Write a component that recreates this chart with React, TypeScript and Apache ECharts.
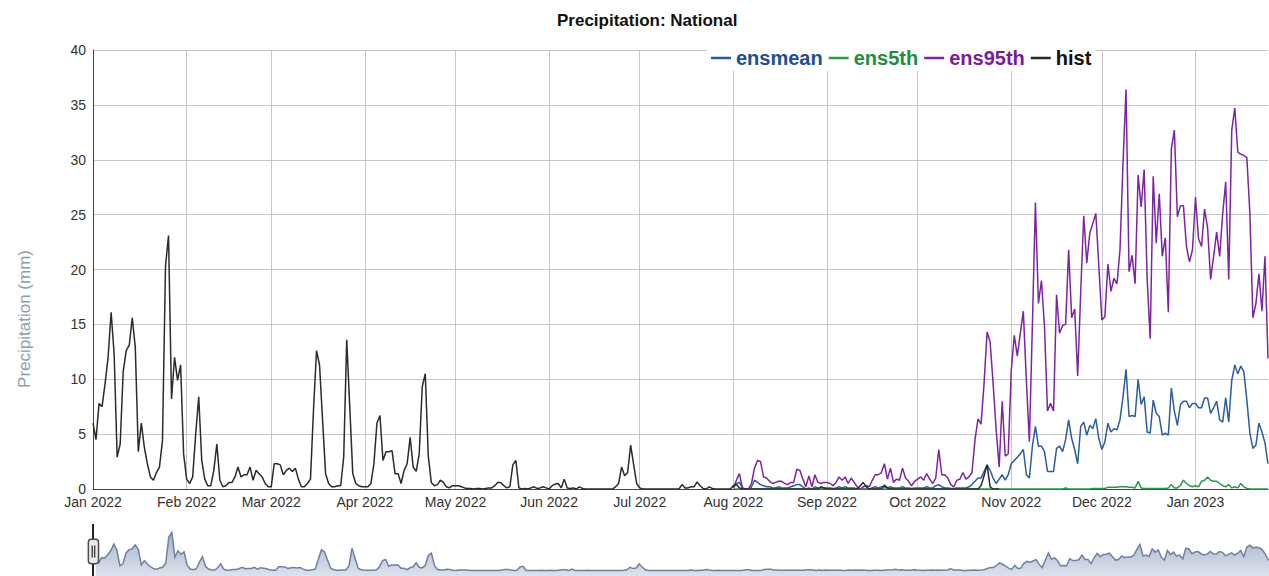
import React, { useEffect, useRef } from 'react';
import * as echarts from 'echarts';

const FONT = 'Arial, "Liberation Sans", sans-serif';
const START_DATE = '2022-01-01';
const DAY_COUNT = 390;
const ENS_START = 212; // index of 2022-08-01
const MONTHS = ['Jan', 'Feb', 'Mar', 'Apr', 'May', 'Jun', 'Jul', 'Aug', 'Sep', 'Oct', 'Nov', 'Dec'];
const TITLE = 'Precipitation: National';
const Y_NAME = 'Precipitation (mm)';
const SERIES_NAMES = ['ensmean', 'ens5th', 'ens95th', 'hist'];

// observed daily precipitation, from 2022-01-01
const hist = [
  6.0, 4.5, 7.8, 7.5, 9.6, 12.0, 16.1, 12.3, 2.9, 4.1,
  10.7, 12.6, 13.1, 15.6, 12.9, 3.4, 6.0, 3.8, 2.3, 1.1,
  0.8, 1.5, 2.0, 4.4, 20.3, 23.1, 8.2, 12.0, 9.9, 11.3,
  3.2, 0.9, 0.5, 1.1, 5.0, 8.4, 2.6, 0.9, 0.3, 0.3,
  1.7, 4.1, 0.8, 0.2, 0.3, 0.6, 0.6, 1.1, 2.0, 1.1,
  1.3, 1.3, 2.0, 0.8, 1.7, 1.4, 1.1, 0.5, 0.2, 0.2,
  2.3, 2.3, 2.2, 1.3, 1.7, 1.9, 1.6, 1.9, 0.9, 0.2,
  0.2, 0.5, 0.9, 7.2, 12.6, 11.3, 6.3, 1.4, 0.5, 0.2,
  0.2, 0.3, 0.3, 2.9, 13.6, 7.5, 1.4, 0.5, 0.3, 0.2,
  0.2, 0.2, 0.5, 2.3, 6.0, 6.7, 2.6, 3.4, 3.4, 3.5,
  1.4, 1.4, 0.5, 1.7, 2.3, 4.7, 2.0, 1.6, 3.2, 9.3,
  10.5, 3.0, 0.6, 0.3, 0.4, 0.8, 0.6, 0.2, 0.1, 0.3,
  0.3, 0.3, 0.2, 0.1, 0.05, 0.05, 0, 0.05, 0.05, 0,
  0.05, 0.1, 0.1, 0.3, 0.6, 0.6, 0.3, 0.1, 0.2, 2.2,
  2.6, 0.1, 0, 0.05, 0, 0.1, 0.2, 0.05, 0.1, 0.2,
  0.1, 0, 0.3, 0.45, 0.5, 0.1, 0.9, 0.1, 0.05, 0.1,
  0, 0.2, 0.05, 0, 0, 0, 0, 0, 0, 0,
  0, 0, 0, 0.2, 0.5, 2.0, 1.2, 1.5, 4.0, 2.2,
  0.5, 0.1, 0, 0, 0, 0, 0, 0, 0, 0,
  0, 0, 0, 0, 0, 0.4, 0.1, 0.1, 0.2, 0.2,
  0.65, 0.3, 0.05, 0, 0.2, 0.05, 0, 0, 0, 0,
  0, 0, 0.3, 0.4, 0.1, 0, 0, 0, 0, 0,
  0, 0, 0, 0, 0, 0, 0, 0, 0, 0,
  0, 0, 0, 0, 0, 0, 0, 0, 0, 0,
  0, 0.2, 0.1, 0, 0, 0, 0, 0, 0, 0,
  0, 0, 0, 0, 0.3, 0.6, 0.2, 0, 0, 0,
  0, 0, 0.35, 0.1, 0, 0, 0, 0, 0, 0,
  0, 0, 0, 0, 0, 0, 0, 0, 0, 0,
  0, 0, 0, 0, 0, 0, 0, 0, 0, 0,
  0, 0, 0, 0, 0.3, 1.2, 2.2, 0.2, 0, 0,
  0,
];

// ensemble mean, from 2022-08-01
const ensmean = [
  0.1, 0.5, 0.6, 0.1, 0, 0, 0.2, 0.8, 0.6, 0.4,
  0.3, 0.2, 0.2, 0.1, 0.1, 0.2, 0.1, 0.1, 0.1, 0.2,
  0.3, 0.4, 0.4, 0.2, 0, 0.1, 0, 0.2, 0.1, 0.1,
  0.1, 0.1, 0.1, 0.05, 0.1, 0.2, 0.1, 0.2, 0.1, 0.1,
  0.1, 0, 0, 0, 0, 0, 0.1, 0.2, 0.1, 0.2,
  0.2, 0.1, 0.2, 0.1, 0.1, 0.1, 0.2, 0.1, 0.1, 0.05,
  0.1, 0.1, 0.1, 0.1, 0.2, 0.1, 0.1, 0.3, 0.4, 0.2,
  0.1, 0.1, 0.05, 0.05, 0.1, 0.1, 0.1, 0.1, 0.2, 0.4,
  0.7, 1.0, 1.0, 1.6, 2.2, 1.7, 1.0, 0.5, 0.9, 1.3,
  0.8, 1.3, 2.3, 2.6, 2.9, 3.2, 3.6, 1.3, 1.0, 3.9,
  5.7, 3.9, 3.9, 3.4, 1.6, 1.6, 1.6, 3.7, 3.9, 3.4,
  4.5, 6.3, 4.6, 3.6, 2.3, 5.7, 6.1, 4.9, 5.8, 5.5,
  6.4, 4.6, 3.6, 4.3, 6.0, 5.2, 5.5, 5.4, 6.3, 8.4,
  10.9, 6.6, 6.7, 6.6, 10.0, 7.7, 8.4, 5.2, 5.1, 8.1,
  6.9, 6.6, 4.9, 5.1, 4.9, 9.2, 7.1, 5.8, 7.7, 8.0,
  8.0, 7.4, 7.8, 7.8, 7.4, 7.4, 8.3, 8.3, 6.9, 7.4,
  8.0, 6.3, 6.1, 8.3, 6.1, 9.9, 11.3, 10.5, 11.2, 10.7,
  8.1, 5.1, 3.7, 4.0, 6.0, 5.2, 4.2, 2.3,
];

// ensemble 5th percentile, from 2022-08-01
const ens5th = [
  0, 0, 0, 0, 0, 0, 0, 0, 0, 0,
  0, 0, 0, 0, 0, 0, 0, 0, 0, 0,
  0, 0, 0, 0, 0, 0, 0, 0, 0, 0,
  0, 0, 0, 0, 0, 0, 0, 0, 0, 0,
  0, 0, 0, 0, 0, 0, 0, 0, 0, 0,
  0, 0, 0, 0, 0, 0, 0, 0, 0, 0,
  0, 0, 0, 0, 0, 0, 0, 0, 0, 0,
  0, 0, 0, 0, 0, 0, 0, 0, 0, 0,
  0, 0, 0, 0, 0, 0, 0, 0, 0, 0,
  0, 0, 0, 0, 0, 0, 0, 0, 0, 0,
  0, 0, 0, 0, 0, 0, 0, 0, 0, 0,
  0.1, 0, 0, 0, 0, 0, 0, 0, 0, 0.05,
  0.05, 0.05, 0.05, 0.05, 0.15, 0.15, 0.15, 0.15, 0.2, 0.2,
  0.2, 0.15, 0.15, 0.1, 0.7, 0.1, 0.05, 0.05, 0.05, 0.05,
  0.05, 0.05, 0.05, 0.05, 0.1, 0.4, 0.1, 0.1, 0.3, 0.8,
  0.5, 0.3, 0.2, 0.3, 0.2, 0.7, 0.8, 1.1, 0.8, 0.7,
  0.7, 0.5, 0.3, 0.2, 0.4, 0.1, 0.2, 0.1, 0.5, 0.2,
  0.05, 0, 0, 0, 0, 0, 0, 0,
];

// ensemble 95th percentile, from 2022-08-01
const ens95th = [
  0.1, 0.8, 1.4, 0.1, 0, 0, 0.5, 1.9, 2.6, 2.5,
  1.1, 1.0, 0.7, 0.5, 0.6, 0.7, 0.7, 0.5, 0.4, 0.6,
  0.6, 1.8, 1.7, 0.9, 0.2, 1.2, 0.2, 1.3, 0.6, 0.5,
  0.6, 0.6, 0.5, 0.3, 0.6, 1.1, 0.8, 1.1, 0.5, 1.0,
  0.6, 0.2, 0, 0.2, 0.3, 0.2, 0.8, 1.3, 1.3, 1.5,
  2.3, 0.9, 1.9, 0.6, 0.9, 0.8, 1.9, 1.0, 0.7, 0.3,
  0.7, 0.9, 1.1, 0.8, 1.4, 0.9, 0.5, 1.0, 3.6, 1.3,
  1.3, 1.0, 0.4, 0.2, 0.8, 0.9, 1.5, 0.9, 1.1, 1.5,
  4.5, 6.4, 5.9, 9.6, 14.3, 13.4, 9.6, 5.4, 2.0, 8.0,
  3.0, 3.2, 10.8, 14.0, 12.1, 14.2, 16.2, 9.9, 4.3, 15.0,
  26.1, 16.9, 19.0, 14.8, 7.1, 7.8, 7.1, 17.7, 14.2, 14.9,
  15.0, 21.8, 15.6, 16.4, 10.3, 18.0, 24.9, 20.6, 23.3, 24.2,
  25.1, 20.3, 15.4, 15.7, 20.5, 18.0, 19.2, 18.7, 21.8, 29.7,
  36.4, 19.8, 21.3, 18.7, 28.6, 25.7, 29.1, 19.1, 13.7, 28.5,
  22.4, 26.9, 21.2, 22.9, 16.1, 31.0, 32.7, 24.8, 25.8, 25.8,
  22.1, 20.7, 21.8, 26.6, 22.8, 22.1, 25.5, 23.8, 19.1, 21.2,
  23.4, 21.2, 25.1, 28.0, 19.1, 32.7, 34.7, 30.7, 30.5, 30.4,
  30.2, 25.1, 15.6, 16.9, 19.6, 16.2, 21.2, 11.9,
];

const COLORS = {
  ensmean: '#2a5c9f',
  ens5th: '#2a9a4a',
  ens95th: '#7d24a0',
  hist: '#2b2b2b',
};
const LEGEND_TEXT = {
  ensmean: '#1f4e93',
  ens5th: '#1f8c42',
  ens95th: '#781c99',
  hist: '#111111',
};

function buildDates(): string[] {
  const t0 = new Date(START_DATE + 'T00:00:00Z').getTime();
  const out: string[] = [];
  for (let i = 0; i < DAY_COUNT; i++) {
    out.push(new Date(t0 + i * 86400000).toISOString().slice(0, 10));
  }
  return out;
}

function monthLabel(v: string): string {
  const [y, m] = v.split('-');
  return MONTHS[parseInt(m, 10) - 1] + ' ' + y;
}

const isMonthStart = (_i: number, v: string) => typeof v === 'string' && v.endsWith('-01');

export default function App() {
  const ref = useRef<HTMLDivElement>(null);

  useEffect(() => {
    if (!ref.current) return;
    const chart = echarts.init(ref.current, undefined, { renderer: 'svg' });
    const dates = buildDates();
    const histData = dates.map((_, i) => (i < hist.length ? hist[i] : null));
    const ens = (arr: number[]) =>
      dates.map((_, i) => (i >= ENS_START && i - ENS_START < arr.length ? arr[i - ENS_START] : null));
    const meanData = ens(ensmean);
    const p5Data = ens(ens5th);
    const p95Data = ens(ens95th);
    // overview (range selector) shows the average of the available series
    const overview = dates.map((_, i) => {
      const vals = [histData[i], meanData[i], p5Data[i], p95Data[i]].filter((v) => v != null) as number[];
      return vals.length ? vals.reduce((a, b) => a + b, 0) / vals.length : null;
    });

    const lineSeries = (name: string, data: (number | null)[]) => ({
      name,
      type: 'line',
      data,
      showSymbol: false,
      symbol: 'none',
      connectNulls: false,
      lineStyle: { color: (COLORS as any)[name], width: 1.5 },
      itemStyle: { color: (COLORS as any)[name] },
      emphasis: { disabled: true },
    });

    const shadowFill = new echarts.graphic.LinearGradient(0, 0, 0, 1, [
      { offset: 0, color: '#e4e9f1' },
      { offset: 1, color: '#a6b3c9' },
    ]);

    chart.setOption({
      animation: false,
      textStyle: { fontFamily: FONT },
      title: {
        text: TITLE,
        left: 557,
        top: 12,
        padding: 0,
        textStyle: { fontSize: 17, fontWeight: 'bold', color: '#111', fontFamily: FONT },
      },
      legend: {
        data: SERIES_NAMES.map((n) => ({ name: n, textStyle: { color: (LEGEND_TEXT as any)[n] } })),
        left: 707,
        top: 45,
        padding: [3, 4, 3, 4],
        backgroundColor: '#ffffff',
        icon: 'rect',
        itemWidth: 20,
        itemHeight: 2.5,
        itemGap: 6,
        selectedMode: false,
        textStyle: { fontSize: 20, fontWeight: 'bold', fontFamily: FONT },
        z: 20,
      },
      grid: { left: 93, right: 1, top: 50, bottom: 87, containLabel: false, outerBoundsMode: 'none' },
      xAxis: {
        type: 'category',
        data: dates,
        boundaryGap: false,
        axisLine: { show: true, lineStyle: { color: '#444', width: 1 } },
        axisTick: { show: false },
        axisLabel: {
          interval: isMonthStart,
          formatter: monthLabel,
          fontSize: 14,
          color: '#333',
          margin: 6,
          fontFamily: FONT,
        },
        splitLine: { show: true, interval: isMonthStart, lineStyle: { color: '#c6c6c6', width: 1 } },
      },
      yAxis: {
        type: 'value',
        min: 0,
        max: 40,
        interval: 5,
        axisLine: { show: true, lineStyle: { color: '#444', width: 1 } },
        axisTick: { show: false },
        axisLabel: { fontSize: 14, color: '#333', margin: 7, fontFamily: FONT },
        splitLine: { show: true, lineStyle: { color: '#c6c6c6', width: 1 } },
      },
      dataZoom: [
        {
          type: 'slider',
          xAxisIndex: 0,
          filterMode: 'none',
          start: 0,
          end: 100,
          left: 93,
          right: -12,
          top: 521,
          height: 61,
          z: 10,
          backgroundColor: 'rgba(0,0,0,0)',
          borderColor: 'rgba(0,0,0,0)',
          fillerColor: 'rgba(0,0,0,0)',
          showDetail: false,
          brushSelect: false,
          moveHandleSize: 0,
          moveHandleStyle: { opacity: 0 },
          handleIcon:
            'path://M16,12M3,0H7A3,3,0,0,1,10,3V21A3,3,0,0,1,7,24H3A3,3,0,0,1,0,21V3A3,3,0,0,1,3,0Z M3.8,6V18 M6.2,6V18',
          handleSize: '40%',
          handleStyle: { color: '#ebebeb', borderColor: '#4a4a4a', borderWidth: 1.5 },
          emphasis: { handleStyle: { color: '#ebebeb', borderColor: '#4a4a4a', borderWidth: 1.5 } },
          dataBackground: {
            lineStyle: { color: '#6f80a0', width: 1.5, opacity: 1 },
            areaStyle: { color: shadowFill, opacity: 1 },
          },
          selectedDataBackground: {
            lineStyle: { color: '#6f80a0', width: 1.5, opacity: 1 },
            areaStyle: { color: shadowFill, opacity: 1 },
          },
        },
      ],
      graphic: [
        {
          type: 'text',
          x: 24,
          y: 319,
          rotation: Math.PI / 2,
          silent: true,
          style: {
            text: Y_NAME,
            fontSize: 17,
            fontFamily: FONT,
            fill: '#8e9cac',
            align: 'center',
            verticalAlign: 'middle',
          },
        },
        {
          type: 'line',
          z: 5,
          silent: true,
          shape: { x1: 93, y1: 524, x2: 93, y2: 576 },
          style: { stroke: '#222', lineWidth: 2 },
        },
      ],
      series: [
        {
          name: 'overview',
          type: 'line',
          data: overview,
          symbol: 'none',
          silent: true,
          lineStyle: { opacity: 0 },
          itemStyle: { opacity: 0 },
          z: 0,
        },
        lineSeries('ensmean', meanData),
        lineSeries('ens5th', p5Data),
        lineSeries('ens95th', p95Data),
        lineSeries('hist', histData),
      ],
    });

    return () => chart.dispose();
  }, []);

  return (
    <div
      ref={ref}
      style={{ position: 'fixed', left: 0, top: 0, width: '1269px', height: '576px', background: '#fff' }}
    />
  );
}
